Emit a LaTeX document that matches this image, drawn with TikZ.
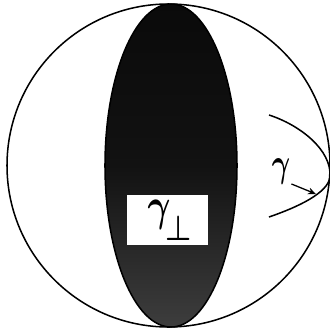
\documentclass[tikz,border=0pt]{standalone}
\usepackage{graphicx}
\usetikzlibrary{arrows.meta,positioning}

\begin{document}
\begin{tikzpicture}[x=0.03cm,y=-0.03cm,
  rim/.style={draw, line width=1.3pt},
  lens/.style={draw, line width=1.3pt, top color=black!96, bottom color=black!76, middle color=black!93},
  tag/.style={fill=white, minimum width=2.43cm, minimum height=1.5cm, inner sep=0pt},
  lbl/.style={inner sep=0pt},
  arr/.style={-{Stealth[length=2.4mm,width=2mm]}, line width=1.1pt}
]
  \useasboundingbox (0,0) rectangle (330,328);

  \draw[rim] (168.5,165.5) circle[radius=161.5];
  \draw[lens] (171,165.5) ellipse[x radius=66, y radius=161.5];

  \node[tag] (perp) at (167.5,220) {\hspace{4pt}\scalebox{3}[3.9]{\boldmath$\gamma$}\kern-4pt\raisebox{-17pt}{\scalebox{2.5}[3]{\boldmath$\perp$}}};

  \draw[rim] (269,115) .. controls (300,125) and (332,150) .. (330,177)
    .. controls (328,193) and (298,207) .. (269,217);
  \coordinate (tip) at (316,194);

  \node[lbl] (gam) at (281,172) {\scalebox{2.4}[3.4]{\boldmath$\gamma$}};
  \draw[arr] (gam.south east) ++(1,-1) -- (tip);
\end{tikzpicture}
\end{document}
